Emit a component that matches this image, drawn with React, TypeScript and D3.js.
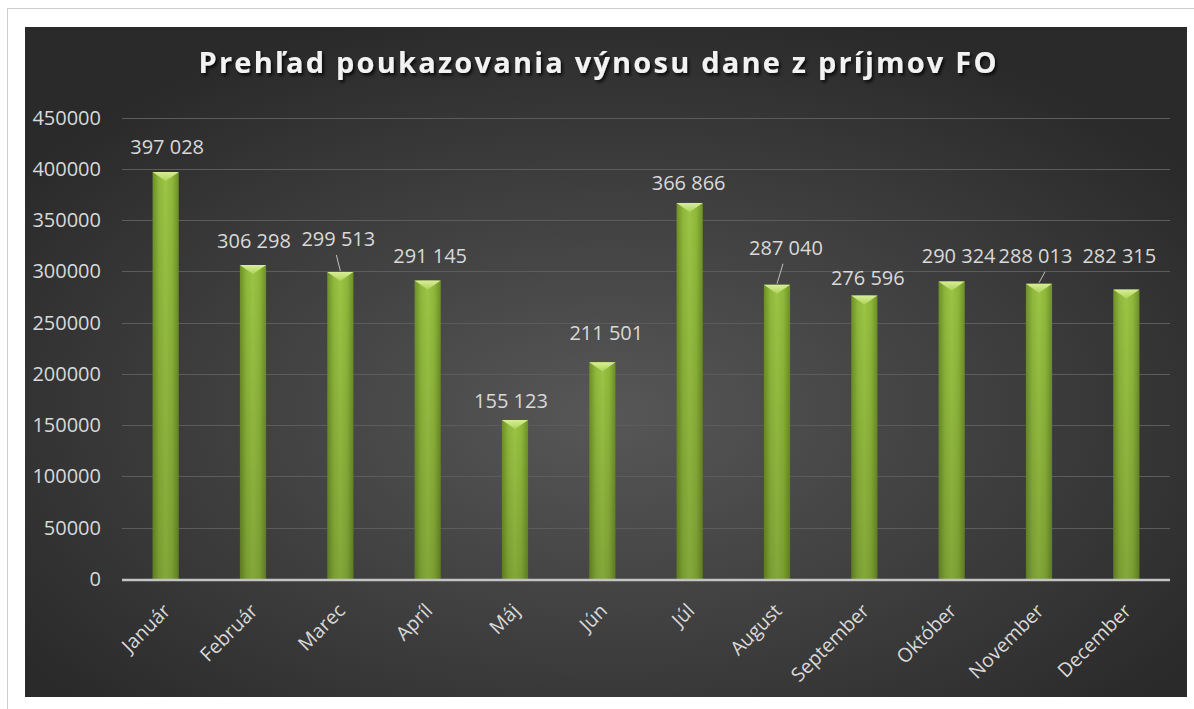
import React, { useEffect, useRef } from "react";
import * as d3 from "d3";

// ---- data ----
const months = [
  "Január", "Február", "Marec", "Apríl", "Máj", "Jún",
  "Júl", "August", "September", "Október", "November", "December",
];
const values = [
  397028, 306298, 299513, 291145, 155123, 211501,
  366866, 287040, 276596, 290324, 288013, 282315,
];
const yTicks = [0, 50000, 100000, 150000, 200000, 250000, 300000, 350000, 400000, 450000];
const title = "Prehľad poukazovania výnosu dane z príjmov FO";

// the data labels were dragged around by hand in the original, so nudge them
const labelDx = [1.5, 1, -2, 2.5, -4, 4, -1, 9, 3.5, 7, -3.5, -7];
const labelGap = [18, 17, 26, 18, 12, 22, 13, 30, 10, 18, 21, 27];
const leaderLean: Record<string, number> = { Marec: -4, August: 6, November: 6 };

const W = 1194;
const H = 709;
const font = "'Open Sans', 'DejaVu Sans', sans-serif";

export default function App() {
  const ref = useRef<SVGSVGElement | null>(null);

  useEffect(() => {
    const svg = d3.select(ref.current);
    svg.selectAll("*").remove();

    const plot = { left: 122, right: 1170, top: 117.7, bottom: 579 };

    // ---- scales ----
    const xScale = d3
      .scaleBand<string>()
      .domain(months)
      .range([plot.left, plot.right])
      .paddingInner(0.7)
      .paddingOuter(0.35);

    const yScale = d3
      .scaleLinear()
      .domain([0, 450000])
      .range([plot.bottom, plot.top]);

    // ---- defs ----
    const defs = svg.append("defs");

    const bg = defs
      .append("radialGradient")
      .attr("id", "bg")
      .attr("cx", "50%")
      .attr("cy", "58%")
      .attr("r", "62%");
    bg.append("stop").attr("offset", "0%").attr("stop-color", "#575757");
    bg.append("stop").attr("offset", "100%").attr("stop-color", "#2a2a2a");

    const barGrad = defs.append("linearGradient").attr("id", "bar").attr("x1", 0).attr("x2", 1);
    barGrad.append("stop").attr("offset", "0%").attr("stop-color", "#6d8f27");
    barGrad.append("stop").attr("offset", "25%").attr("stop-color", "#8fb83b");
    barGrad.append("stop").attr("offset", "50%").attr("stop-color", "#9cc444");
    barGrad.append("stop").attr("offset", "75%").attr("stop-color", "#8fb83b");
    barGrad.append("stop").attr("offset", "100%").attr("stop-color", "#6d8f27");

    const shade = defs.append("linearGradient").attr("id", "shade").attr("x1", 0).attr("x2", 0).attr("y1", 0).attr("y2", 1);
    shade.append("stop").attr("offset", "0%").attr("stop-color", "#000").attr("stop-opacity", 0);
    shade.append("stop").attr("offset", "100%").attr("stop-color", "#000").attr("stop-opacity", 0.15);

    const bevel = defs.append("linearGradient").attr("id", "bevel").attr("x1", 0).attr("x2", 0).attr("y1", 0).attr("y2", 1);
    bevel.append("stop").attr("offset", "0%").attr("stop-color", "#d8ee98");
    bevel.append("stop").attr("offset", "100%").attr("stop-color", "#aed35a");

    const shadow = defs.append("filter").attr("id", "shadow").attr("x", "-5%").attr("y", "-30%").attr("width", "110%").attr("height", "160%");
    shadow
      .append("feDropShadow")
      .attr("dx", 2)
      .attr("dy", 2.5)
      .attr("stdDeviation", 1.5)
      .attr("flood-color", "#000")
      .attr("flood-opacity", 0.75);

    // ---- frame ----
    svg.append("rect").attr("width", W).attr("height", H).attr("fill", "#ffffff");
    svg.append("line").attr("x1", 7).attr("x2", W).attr("y1", 8.5).attr("y2", 8.5).attr("stroke", "#cdcdcd");
    svg.append("line").attr("x1", 7.5).attr("x2", 7.5).attr("y1", 8).attr("y2", H).attr("stroke", "#cdcdcd");

    svg
      .append("rect")
      .attr("x", 25)
      .attr("y", 27)
      .attr("width", 1162)
      .attr("height", 670)
      .attr("fill", "url(#bg)");

    // ---- title ----
    svg
      .append("text")
      .attr("x", 597.5)
      .attr("y", 73)
      .attr("text-anchor", "middle")
      .attr("textLength", 798)
      .attr("lengthAdjust", "spacing")
      .attr("fill", "#f2f2f2")
      .attr("filter", "url(#shadow)")
      .style("font-family", font)
      .style("font-weight", 700)
      .style("font-size", "29px")
      .text(title);

    // ---- gridlines + y labels ----
    const grid = svg.append("g");
    grid
      .selectAll("line")
      .data(yTicks.filter((t) => t > 0))
      .join("line")
      .attr("x1", plot.left)
      .attr("x2", plot.right)
      .attr("y1", (d) => Math.round(yScale(d)) + 0.5)
      .attr("y2", (d) => Math.round(yScale(d)) + 0.5)
      .attr("stroke", "#5c5c5c")
      .attr("stroke-width", 1);

    grid
      .selectAll("text")
      .data(yTicks)
      .join("text")
      .attr("x", 101)
      .attr("y", (d) => yScale(d) + 7)
      .attr("text-anchor", "end")
      .attr("fill", "#d9d9d9")
      .style("font-family", font)
      .style("font-size", "20px")
      .text((d) => String(d));

    // ---- bars ----
    const bw = xScale.bandwidth();
    const bars = svg.append("g");
    const rows = months.map((m, i) => ({ m, v: values[i], i }));

    bars
      .selectAll("rect.bar")
      .data(rows)
      .join("rect")
      .attr("class", "bar")
      .attr("x", (d) => xScale(d.m)!)
      .attr("y", (d) => yScale(d.v))
      .attr("width", bw)
      .attr("height", (d) => yScale(0) - yScale(d.v))
      .attr("fill", "url(#bar)");

    bars
      .selectAll("rect.shade")
      .data(rows)
      .join("rect")
      .attr("class", "shade")
      .attr("x", (d) => xScale(d.m)!)
      .attr("y", (d) => yScale(d.v))
      .attr("width", bw)
      .attr("height", (d) => yScale(0) - yScale(d.v))
      .attr("fill", "url(#shade)");

    bars
      .selectAll("polygon")
      .data(rows)
      .join("polygon")
      .attr("points", (d) => {
        const x0 = xScale(d.m)!;
        const y0 = yScale(d.v);
        return `${x0},${y0} ${x0 + bw},${y0} ${x0 + bw / 2},${y0 + 9}`;
      })
      .attr("fill", "url(#bevel)");

    // ---- axis line ----
    svg
      .append("line")
      .attr("x1", plot.left)
      .attr("x2", plot.right)
      .attr("y1", yScale(0) + 1)
      .attr("y2", yScale(0) + 1)
      .attr("stroke", "#c4c4c4")
      .attr("stroke-width", 2.5);

    // ---- data labels ----
    const fmt = (v: number) => d3.format(",")(v).replace(/,/g, " ");
    const labels = svg.append("g");

    labels
      .selectAll("line")
      .data(rows.filter((d) => leaderLean[d.m] !== undefined))
      .join("line")
      .attr("x1", (d) => xScale(d.m)! + bw / 2 + leaderLean[d.m])
      .attr("x2", (d) => xScale(d.m)! + bw / 2)
      .attr("y1", (d) => yScale(d.v) - labelGap[d.i] + 9)
      .attr("y2", (d) => yScale(d.v) - 1)
      .attr("stroke", "#bfbfbf")
      .attr("stroke-width", 1);

    labels
      .selectAll("text")
      .data(rows)
      .join("text")
      .attr("x", (d) => xScale(d.m)! + bw / 2 + labelDx[d.i])
      .attr("y", (d) => yScale(d.v) - labelGap[d.i])
      .attr("text-anchor", "middle")
      .attr("fill", "#d9d9d9")
      .style("font-family", font)
      .style("font-size", "20px")
      .text((d) => fmt(d.v));

    // ---- category labels ----
    svg
      .append("g")
      .selectAll("text")
      .data(months)
      .join("text")
      .attr("transform", (d) => `translate(${xScale(d)! + bw / 2 + 6},${612}) rotate(-45)`)
      .attr("text-anchor", "end")
      .attr("fill", "#d9d9d9")
      .style("font-family", font)
      .style("font-size", "19.5px")
      .text((d) => d);
  }, []);

  return (
    <svg
      ref={ref}
      width={W}
      height={H}
      style={{ position: "absolute", left: 0, top: 0, display: "block" }}
    />
  );
}
